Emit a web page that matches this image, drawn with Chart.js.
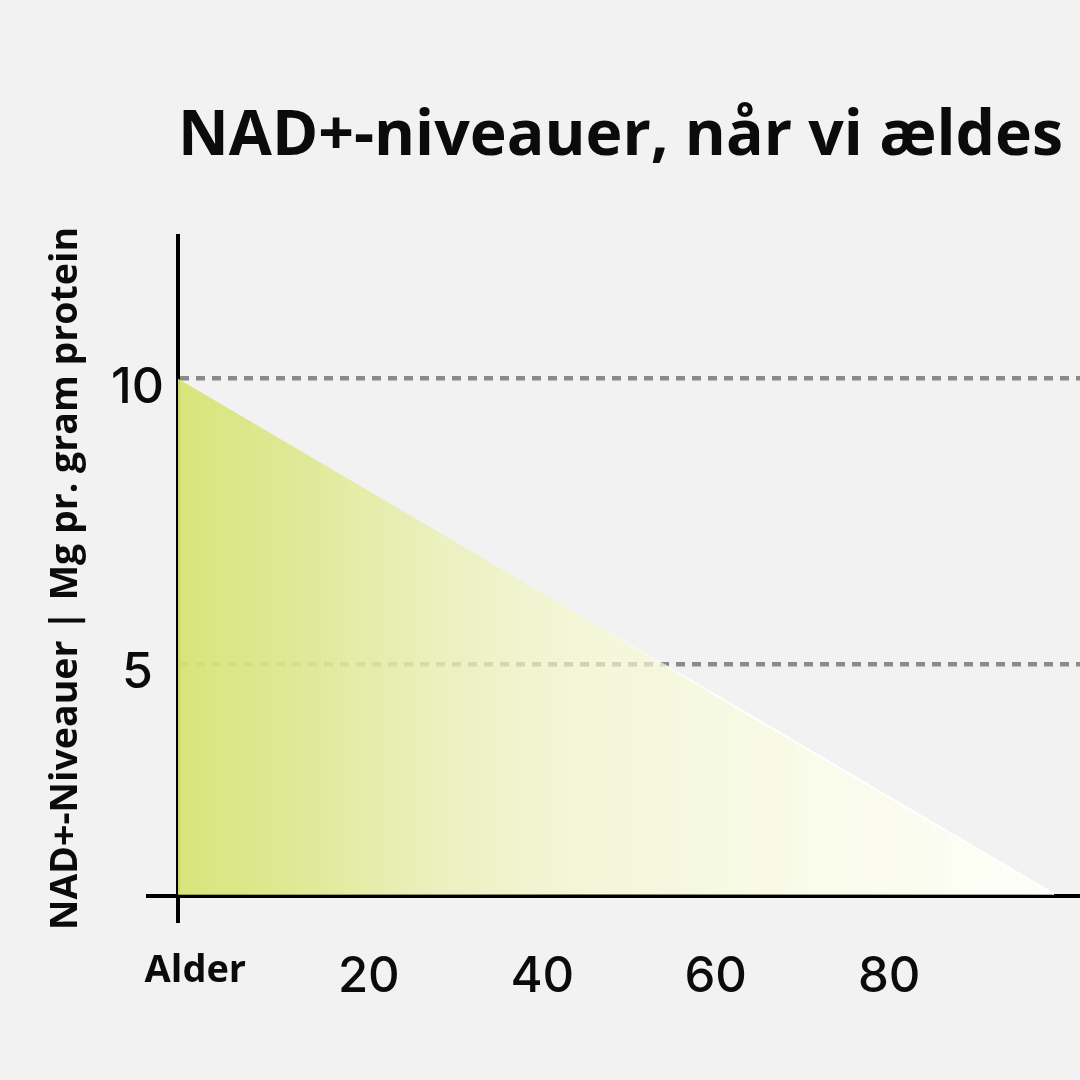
<!DOCTYPE html>
<html lang="da">
<head>
<meta charset="utf-8">
<title>NAD+-niveauer, når vi ældes</title>
<script src="https://cdn.jsdelivr.net/npm/chart.js@4.4.1/dist/chart.umd.min.js"></script>
<style>
  html, body { margin: 0; padding: 0; background: #f2f2f2; }
  #wrap { width: 1080px; height: 1080px; }
</style>
</head>
<body>
<div id="wrap"><canvas id="nadChart" width="1080" height="1080"></canvas></div>
<script>
// === Data ===
const ages = [-2, 99];
const nadLevels = [10, 0.97];
const ageTicks = [0, 20, 40, 60, 80];
const ageTickLabels = ['Alder', '20', '40', '60', '80'];
const nadTicks = [0.93, 5, 10];
const nadTickLabels = ['', '5', '10'];
const baselineLevel = 0.93;
const fillFloor = 0.96;

const textColor = '#0b0b0b';

// horizontal fade from lime green to near white
function fillGradient(ctx) {
    const area = ctx.chart.chartArea;
    if (!area) return 'rgba(216,228,122,0.9)';
    const g = ctx.chart.ctx.createLinearGradient(area.left, 0, area.right, 0);
    g.addColorStop(0, 'rgba(214,227,114,0.95)');
    g.addColorStop(0.15, 'rgba(222,232,144,0.9)');
    g.addColorStop(0.3, 'rgba(233,240,180,0.8)');
    g.addColorStop(0.45, 'rgba(243,248,202,0.65)');
    g.addColorStop(0.7, 'rgba(251,253,232,0.8)');
    g.addColorStop(1, 'rgba(255,255,251,0.92)');
    return g;
}

function edgeGradient(ctx) {
    const area = ctx.chart.chartArea;
    if (!area) return 'rgba(255,255,255,0)';
    const g = ctx.chart.ctx.createLinearGradient(area.left, 0, area.right, 0);
    g.addColorStop(0, 'rgba(255,255,255,0)');
    g.addColorStop(0.45, 'rgba(255,255,255,0)');
    g.addColorStop(0.6, 'rgba(255,255,255,0.9)');
    g.addColorStop(1, 'rgba(255,255,255,1)');
    return g;
}

const isBaseline = (ctx) => ctx.tick && ctx.tick.value === baselineLevel;

new Chart(document.getElementById('nadChart'), {
    type: 'line',
    data: {
        datasets: [{
            data: ages.map((a, i) => ({ x: a, y: nadLevels[i] })),
            borderColor: edgeGradient,
            borderWidth: 2,
            backgroundColor: fillGradient,
            fill: { value: fillFloor },
            tension: 0,
            pointRadius: 0
        }]
    },
    options: {
        responsive: false,
        animation: false,
        layout: { padding: 0 },
        plugins: {
            legend: { display: false },
            tooltip: { enabled: false },
            title: {
                display: true,
                text: 'NAD+-niveauer, når vi ældes',
                fullSize: false,
                align: 'start',
                color: textColor,
                font: { family: "'Open Sans'", size: 62.5, weight: 'bold' },
                padding: { top: 100, bottom: 61 }
            }
        },
        scales: {
            x: {
                type: 'linear',
                min: -2,
                max: 102,
                afterBuildTicks: (scale) => { scale.ticks = ageTicks.map(v => ({ value: v })); },
                afterFit: (scale) => { scale.height = 159; },
                grid: { display: false, drawTicks: false },
                border: { display: false },
                ticks: {
                    padding: 27,
                    color: textColor,
                    maxRotation: 0,
                    autoSkip: false,
                    callback: (v) => ageTickLabels[ageTicks.indexOf(v)],
                    font: (ctx) => ctx.index === 0
                        ? { family: "'Open Sans'", size: 38, weight: 'bold' }
                        : { family: 'Inter', size: 49, weight: 500 }
                }
            },
            y: {
                min: 0.5,
                max: 12.5,
                afterBuildTicks: (scale) => { scale.ticks = nadTicks.map(v => ({ value: v })); },
                afterFit: (scale) => { scale.width = 178; },
                grid: {
                    color: (ctx) => isBaseline(ctx) ? '#000000' : '#8a8a8a',
                    lineWidth: (ctx) => isBaseline(ctx) ? 4 : 4.5,
                    drawTicks: true,
                    tickLength: 32,
                    tickWidth: 4,
                    tickColor: (ctx) => isBaseline(ctx) ? '#000000' : 'rgba(0,0,0,0)'
                },
                border: {
                    display: true,
                    color: '#000000',
                    width: 4,
                    dash: (ctx) => (ctx.tick && !isBaseline(ctx)) ? [9, 7] : []
                },
                ticks: {
                    crossAlign: 'center',
                    padding: -18,
                    labelOffset: 9,
                    color: textColor,
                    autoSkip: false,
                    callback: (v) => nadTickLabels[nadTicks.indexOf(v)],
                    font: { family: 'Inter', size: 50, weight: 500 }
                },
                title: {
                    display: true,
                    text: 'NAD+-Niveauer | Mg pr. gram protein',
                    color: textColor,
                    font: { family: "'Open Sans'", size: 37.5, weight: 'bold' },
                    padding: { top: 44, bottom: 0 }
                }
            }
        }
    }
});
</script>
</body>
</html>
